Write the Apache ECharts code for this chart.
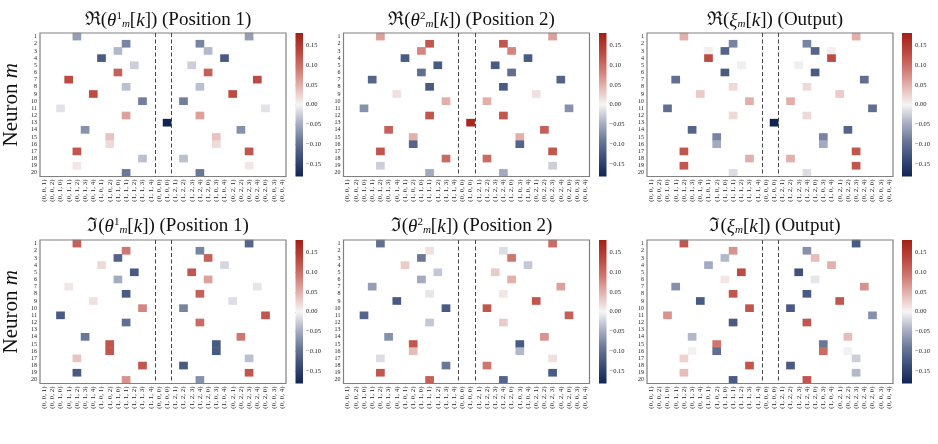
<!DOCTYPE html>
<html>
<head>
<meta charset="utf-8">
<script src="https://cdn.jsdelivr.net/npm/echarts@6/dist/echarts.min.js"></script>
<style>
html, body { margin: 0; padding: 0; background: #fff; }
#chart { width: 938px; height: 444px; }
</style>
</head>
<body>
<div id="chart"></div>
<script>
// frequency labels k (columns)
const xLabels = [
  '(0, 0, 1)', '(0, 0, 2)', '(0, 1, 0)', '(0, 1, 1)', '(0, 1, 2)', '(0, 1, 3)', '(0, 1, 4)',
  '(1, 0, 1)', '(1, 0, 2)', '(1, 1, 0)', '(1, 1, 1)', '(1, 1, 2)', '(1, 1, 3)', '(1, 1, 4)',
  '(0, 0, 0)', '(1, 0, 0)',
  '(1, 2, 1)', '(1, 2, 2)', '(1, 2, 3)', '(1, 2, 4)', '(1, 2, 0)', '(1, 0, 3)', '(1, 0, 4)',
  '(0, 2, 1)', '(0, 2, 2)', '(0, 2, 3)', '(0, 2, 4)', '(0, 2, 0)', '(0, 0, 3)', '(0, 0, 4)'
];
// neurons (rows)
const neurons = ['1','2','3','4','5','6','7','8','9','10','11','12','13','14','15','16','17','18','19','20'];
// dashed separators sit on the left edge of these columns
const dividers = ['(0, 0, 0)', '(1, 2, 1)'];
const cbarTicks = [-0.15, -0.1, -0.05, 0, 0.05, 0.1, 0.15];
const cmapColors = ['#122453', '#3a4c78', '#6a7898', '#aab1c5', '#f6f5f5', '#e4b6b2', '#cf776f', '#b9463d', '#a31f16'];

// [neuron, column (1-based), value]
const reTheta1 = [
  [1,5,-0.06],[1,26,-0.06],[2,11,-0.08],[2,20,-0.08],[3,10,-0.04],[3,21,-0.04],
  [4,8,-0.12],[4,23,-0.12],[5,12,-0.025],[5,19,-0.025],[6,10,0.11],[6,21,0.11],
  [7,4,0.13],[7,27,0.13],[8,11,-0.035],[8,20,-0.035],[9,7,0.13],[9,24,0.13],
  [10,13,-0.085],[10,18,-0.085],[11,3,-0.012],[11,28,-0.012],[12,11,0.06],[12,20,0.06],
  [13,16,-0.18],[14,6,-0.07],[14,25,-0.07],[15,9,0.035],[15,22,0.035],
  [16,9,0.018],[16,22,0.018],[17,5,0.12],[17,26,0.12],[18,13,-0.035],[18,18,-0.035],
  [19,5,0.01],[19,26,0.01],[20,11,-0.09],[20,20,-0.09]
];
const reTheta2 = [
  [1,5,0.06],[1,26,0.06],[2,11,0.12],[2,20,0.12],[3,10,0.08],[3,21,0.08],
  [4,8,-0.12],[4,23,-0.12],[5,12,-0.12],[5,19,-0.12],[6,10,-0.10],[6,21,-0.10],
  [7,4,-0.11],[7,27,-0.11],[8,11,-0.12],[8,20,-0.12],[9,7,0.015],[9,24,0.015],
  [10,13,0.05],[10,18,0.05],[11,3,-0.07],[11,28,-0.07],[12,11,0.12],[12,20,0.12],
  [13,16,0.17],[14,6,0.11],[14,25,0.11],[15,9,0.05],[15,22,0.05],
  [16,9,-0.11],[16,22,-0.11],[17,5,0.12],[17,26,0.12],[18,13,0.10],[18,18,0.10],
  [19,5,-0.025],[19,26,-0.025],[20,11,-0.05],[20,20,-0.05]
];
const reXi = [
  [1,5,0.05],[1,26,0.05],[2,11,-0.08],[2,20,-0.08],[3,10,-0.11],[3,21,-0.11],
  [3,8,0.004],[3,23,0.004],[4,8,0.13],[4,23,0.13],[5,12,-0.004],[5,19,-0.004],
  [6,10,-0.12],[6,21,-0.12],[7,4,-0.10],[7,27,-0.10],[8,11,0.02],[8,20,0.02],
  [9,7,0.03],[9,24,0.03],[10,13,0.05],[10,18,0.05],[11,3,-0.10],[11,28,-0.10],
  [12,11,0.02],[12,20,0.02],[13,16,-0.18],[14,6,-0.11],[14,25,-0.11],
  [15,9,-0.08],[15,22,-0.08],[16,9,-0.05],[16,22,-0.05],[17,5,0.12],[17,26,0.12],
  [18,13,0.05],[18,18,0.05],[19,5,0.12],[19,26,0.12],[20,11,-0.015],[20,20,-0.015]
];
const imTheta1 = [
  [1,5,0.11],[1,26,-0.11],[2,11,0.09],[2,20,-0.08],[3,10,-0.11],[3,21,0.11],
  [4,8,0.02],[4,23,-0.02],[5,12,-0.12],[5,19,0.12],[6,10,-0.05],[6,21,0.06],
  [7,4,0.01],[7,27,-0.01],[8,11,-0.12],[8,20,0.11],[9,7,0.015],[9,24,-0.015],
  [10,13,0.08],[10,18,-0.08],[11,3,-0.12],[11,28,0.12],[12,11,-0.10],[12,20,0.10],
  [14,6,-0.09],[14,25,0.09],[15,9,0.12],[15,22,-0.12],[16,9,0.12],[16,22,-0.12],
  [17,5,0.035],[17,26,-0.035],[18,13,0.12],[18,18,-0.12],[19,5,-0.12],[19,26,0.12],
  [20,11,0.07],[20,20,-0.07]
];
const imTheta2 = [
  [1,5,-0.10],[1,26,0.10],[2,11,0.015],[2,20,-0.015],[3,10,-0.09],[3,21,0.09],
  [4,8,0.03],[4,23,-0.03],[5,12,-0.03],[5,19,0.03],[6,10,-0.05],[6,21,0.05],
  [7,4,-0.06],[7,27,0.06],[8,11,-0.01],[8,20,0.01],[9,7,-0.12],[9,24,0.12],
  [10,13,-0.12],[10,18,0.12],[11,3,-0.11],[11,28,0.11],[12,11,-0.03],[12,20,0.03],
  [14,6,-0.07],[14,25,0.07],[15,9,0.12],[15,22,-0.12],[16,9,0.04],[16,22,-0.04],
  [17,5,-0.015],[17,26,0.015],[18,13,-0.09],[18,18,0.09],[19,5,0.12],[19,26,-0.12],
  [20,11,0.11],[20,20,-0.11]
];
const imXi = [
  [1,5,0.12],[1,26,-0.12],[2,11,0.07],[2,20,-0.07],[3,10,-0.04],[3,21,0.04],
  [4,8,-0.05],[4,23,0.05],[5,12,0.13],[5,19,-0.13],[6,10,0.01],[6,21,-0.01],
  [7,4,-0.07],[7,27,0.07],[8,11,0.12],[8,20,-0.12],[9,7,-0.12],[9,24,0.12],
  [10,13,0.12],[10,18,-0.12],[11,3,0.07],[11,28,-0.07],[12,11,-0.12],[12,20,0.12],
  [14,6,-0.04],[14,25,0.04],[15,9,0.09],[15,22,-0.09],[16,9,-0.10],[16,22,0.10],
  [16,6,0.003],[16,25,-0.003],[17,5,0.025],[17,26,-0.025],[18,13,0.12],[18,18,-0.12],
  [19,5,0.04],[19,26,-0.04],[20,11,-0.12],[20,20,0.12]
];

const panels = [
  { title: '{n|ℜ(}{i|θ}{sup|1}{sub|m}{n|[}{i|k}{n|]) (Position 1)}', data: reTheta1 },
  { title: '{n|ℜ(}{i|θ}{sup|2}{sub|m}{n|[}{i|k}{n|]) (Position 2)}', data: reTheta2 },
  { title: '{n|ℜ(}{i|ξ}{sub|m}{n|[}{i|k}{n|]) (Output)}', data: reXi },
  { title: '{n|ℑ(}{i|θ}{sup|1}{sub|m}{n|[}{i|k}{n|]) (Position 1)}', data: imTheta1 },
  { title: '{n|ℑ(}{i|θ}{sup|2}{sub|m}{n|[}{i|k}{n|]) (Position 2)}', data: imTheta2 },
  { title: '{n|ℑ(}{i|ξ}{sub|m}{n|[}{i|k}{n|]) (Output)}', data: imXi }
];

const serif = "'Liberation Serif', 'DejaVu Serif', serif";
const lefts = [40, 343.5, 647];
const tops = [33, 240];
const cbLefts = [295.5, 599, 902];
const cbWidths = [7.5, 7.5, 10];
const W = 246, H = 143.5;

const grids = [], xAxes = [], yAxes = [], series = [], titles = [];
const titleRich = {
  n: { fontFamily: serif, fontSize: 19, fontWeight: 'normal', color: '#111' },
  i: { fontFamily: serif, fontSize: 19, fontWeight: 'normal', fontStyle: 'italic', color: '#111' },
  sup: { fontFamily: serif, fontSize: 11, fontWeight: 'normal', verticalAlign: 'top', color: '#111' },
  sub: { fontFamily: serif, fontSize: 11, fontWeight: 'normal', fontStyle: 'italic', verticalAlign: 'bottom', color: '#111' }
};

panels.forEach(function (p, i) {
  const c = i % 3, r = Math.floor(i / 3);
  grids.push({ left: lefts[c], top: tops[r], width: W, height: H, show: true,
    borderColor: '#808080', borderWidth: 1.2, backgroundColor: 'transparent', z: 3 });
  xAxes.push({
    gridIndex: i, type: 'category', data: xLabels,
    axisLine: { show: false },
    axisTick: { alignWithLabel: true, length: 2.5, lineStyle: { color: '#333', width: 0.6 } },
    axisLabel: { interval: 0, rotate: 90, fontSize: 7, fontFamily: serif, color: '#222', margin: 3 },
    splitLine: { show: false }
  });
  yAxes.push({
    gridIndex: i, type: 'category', data: neurons, inverse: true,
    axisLine: { show: false },
    axisTick: { alignWithLabel: true, length: 2.5, lineStyle: { color: '#333', width: 0.6 } },
    axisLabel: { interval: 0, fontSize: 6, fontFamily: serif, color: '#222', margin: 3 },
    name: c === 0 ? '{a|Neuron }{b|m}' : '',
    nameLocation: 'middle', nameRotate: 90, nameGap: 18,
    nameTextStyle: { rich: {
      a: { fontFamily: serif, fontSize: 21, color: '#111' },
      b: { fontFamily: serif, fontSize: 21, fontStyle: 'italic', color: '#111' }
    } }
  });
  series.push({
    type: 'heatmap', xAxisIndex: i, yAxisIndex: i,
    data: p.data.map(function (d) { return [d[1] - 1, d[0] - 1, d[2]]; }),
    itemStyle: { borderWidth: 0 },
    emphasis: { disabled: true }, silent: true
  });
  titles.push({
    text: p.title, left: lefts[c] + W / 2, top: r === 0 ? 6 : 212, textAlign: 'center',
    textStyle: { fontWeight: 'normal', rich: titleRich }
  });
});

// dashed separators (custom series on the heatmap axes)
panels.forEach(function (p, i) {
  series.push({
    type: 'custom', xAxisIndex: i, yAxisIndex: i, silent: true, z: 4,
    data: dividers.map(function (lab) { return [xLabels.indexOf(lab), 0]; }),
    renderItem: function (params, api) {
      const pt = api.coord([api.value(0), 0]);
      const bw = api.size([1, 0])[0];
      const cs = params.coordSys;
      const x = Math.round(pt[0] - bw / 2) + 0.5;
      return {
        type: 'line',
        shape: { x1: x, y1: cs.y, x2: x, y2: cs.y + cs.height },
        style: { stroke: '#444', lineWidth: 1, lineDash: [4, 2.5] }
      };
    }
  });
});

// colorbars
const stops = cmapColors.map(function (col, k) {
  return { offset: k / (cmapColors.length - 1), color: col };
});
panels.forEach(function (p, i) {
  const c = i % 3, r = Math.floor(i / 3);
  const gi = 6 + i;
  grids.push({ left: cbLefts[c], top: tops[r], width: cbWidths[c], height: H });
  xAxes.push({ gridIndex: gi, type: 'value', min: 0, max: 1, show: false });
  yAxes.push({
    gridIndex: gi, type: 'value', min: -0.18, max: 0.18, position: 'right',
    axisLine: { show: false },
    splitLine: { show: false },
    axisTick: { show: true, customValues: cbarTicks, length: 2.5, lineStyle: { color: '#333', width: 0.6 } },
    axisLabel: {
      customValues: cbarTicks, fontSize: 6.5, fontFamily: serif, color: '#222', margin: 3,
      formatter: function (v) { return (v < 0 ? '\u2212' : '') + Math.abs(v).toFixed(2); }
    }
  });
  series.push({
    type: 'custom', xAxisIndex: gi, yAxisIndex: gi, silent: true,
    data: [[0, -0.18, 0.18]],
    renderItem: function (params, api) {
      const topPt = api.coord([0, api.value(2)]);
      const botPt = api.coord([0, api.value(1)]);
      const cs = params.coordSys;
      return {
        type: 'rect',
        shape: { x: cs.x, y: topPt[1], width: cs.width, height: botPt[1] - topPt[1] },
        style: { fill: new echarts.graphic.LinearGradient(0, 1, 0, 0, stops) }
      };
    }
  });
});

const chart = echarts.init(document.getElementById('chart'), null, { renderer: 'canvas' });
chart.setOption({
  animation: false,
  backgroundColor: '#fff',
  title: titles,
  grid: grids,
  xAxis: xAxes,
  yAxis: yAxes,
  visualMap: {
    type: 'continuous', show: false, min: -0.18, max: 0.18,
    seriesIndex: [0, 1, 2, 3, 4, 5],
    inRange: { color: cmapColors }
  },
  series: series
});
</script>
</body>
</html>
